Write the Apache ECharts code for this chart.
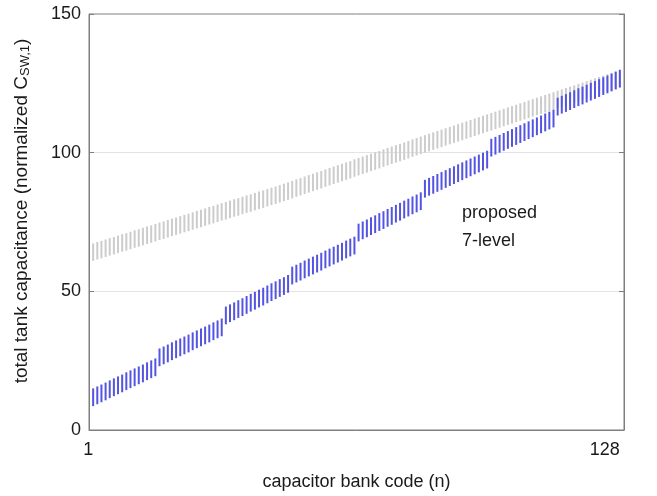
<!DOCTYPE html>
<html>
<head>
<meta charset="utf-8">
<script src="https://cdn.jsdelivr.net/npm/echarts@6/dist/echarts.min.js"></script>
<style>
html,body{margin:0;padding:0;background:#fff;}
#chart{width:657px;height:496px;}
</style>
</head>
<body>
<div id="chart"></div>
<script>
// capacitor bank codes 1..128
const codes = Array.from({length: 128}, (_, i) => i + 1);

// conventional (gray) bars: low / high ends
const grayLow = [
61.0,61.5,61.9,62.4,62.9,63.3,63.8,64.3,64.7,65.2,65.7,66.1,66.6,67.1,67.5,68.0,
68.5,68.9,69.4,69.9,70.3,70.8,71.3,71.7,72.2,72.7,73.1,73.6,74.1,74.5,75.0,75.5,
75.9,76.4,76.9,77.3,77.8,78.3,78.7,79.2,79.7,80.1,80.6,81.1,81.5,82.0,
82.5,83.0,83.5,84.1,84.6,85.1,85.6,86.1,86.6,87.1,87.7,88.2,88.7,89.2,89.7,90.2,
90.7,91.3,91.8,92.3,92.8,93.3,93.8,94.3,94.9,95.4,95.9,96.4,96.9,97.4,97.9,98.5,
99.0,99.5,100.0,
100.5,101.0,101.5,102.0,102.5,103.0,103.5,104.0,104.5,105.0,105.5,106.0,106.5,107.0,107.5,
108.0,108.5,109.0,109.5,110.0,110.5,111.0,111.5,112.0,112.5,113.0,113.5,114.0,114.5,115.0,115.5,
116.0,116.5,117.0,117.5,118.0,118.5,119.0,119.5,120.0,120.5,121.0,121.5,122.0,122.5,123.0,123.5
];
const grayHigh = [
67.3,67.8,68.2,68.7,69.2,69.6,70.1,70.6,71.0,71.5,72.0,72.4,72.9,73.4,73.8,74.3,
74.8,75.2,75.7,76.2,76.6,77.1,77.6,78.0,78.5,79.0,79.4,79.9,80.4,80.8,81.3,81.8,
82.2,82.7,83.2,83.6,84.1,84.6,85.0,85.5,86.0,86.4,86.9,87.4,87.8,88.3,
88.8,89.3,89.8,90.4,90.9,91.4,91.9,92.4,92.9,93.4,94.0,94.5,95.0,95.5,96.0,96.5,
97.0,97.6,98.1,98.6,99.1,99.6,100.1,100.6,101.2,101.7,102.2,102.7,103.2,103.7,104.2,104.8,
105.3,105.8,106.3,
106.8,107.3,107.8,108.3,108.8,109.3,109.8,110.3,110.8,111.3,111.8,112.3,112.8,113.3,113.8,
114.3,114.8,115.3,115.8,116.3,116.8,117.3,117.8,118.3,118.8,119.3,119.8,120.3,120.8,121.3,121.8,
122.3,122.8,123.3,123.8,124.3,124.8,125.3,125.8,126.3,126.8,127.3,127.8,128.3,128.8,129.3,129.8
];

// proposed 7-level (blue) bars: low / high ends
const blueLow = [
8.6,9.3,10.0,10.7,11.5,12.2,12.9,13.6,14.4,15.1,15.8,16.5,17.2,18.0,18.7,19.4,
23.0,23.7,24.4,25.2,25.9,26.6,27.3,28.0,28.8,29.5,30.2,30.9,31.6,32.4,33.1,33.8,
38.1,38.9,39.6,40.4,41.1,41.9,42.7,43.4,44.2,44.9,45.7,46.5,47.2,48.0,48.7,49.5,
52.5,53.2,53.9,54.7,55.4,56.1,56.8,57.5,58.3,59.0,59.7,60.4,61.1,61.9,62.6,63.3,
68.0,68.8,69.5,70.3,71.0,71.8,72.5,73.3,74.0,74.8,75.5,76.3,77.0,77.8,78.5,79.3,
83.8,84.5,85.2,85.9,86.6,87.3,88.0,88.7,89.4,90.1,90.8,91.5,92.2,92.9,93.6,94.3,
98.6,99.3,100.0,100.7,101.4,102.1,102.8,103.5,104.2,104.9,105.6,106.3,107.0,107.7,108.4,109.1,
113.4,114.1,114.7,115.4,116.1,116.8,117.4,118.1,118.8,119.4,120.1,120.8,121.4,122.1,122.8,123.5
];
const blueHigh = [
15.0,15.7,16.4,17.1,17.9,18.6,19.3,20.0,20.8,21.5,22.2,22.9,23.6,24.4,25.1,25.8,
29.4,30.1,30.8,31.6,32.3,33.0,33.7,34.4,35.2,35.9,36.6,37.3,38.0,38.8,39.5,40.2,
44.5,45.3,46.0,46.8,47.5,48.3,49.1,49.8,50.6,51.3,52.1,52.9,53.6,54.4,55.1,55.9,
58.9,59.6,60.3,61.1,61.8,62.5,63.2,63.9,64.7,65.4,66.1,66.8,67.5,68.3,69.0,69.7,
74.4,75.2,75.9,76.7,77.4,78.2,78.9,79.7,80.4,81.2,81.9,82.7,83.4,84.2,84.9,85.7,
90.2,90.9,91.6,92.3,93.0,93.7,94.4,95.1,95.8,96.5,97.2,97.9,98.6,99.3,100.0,100.7,
105.0,105.7,106.4,107.1,107.8,108.5,109.2,109.9,110.6,111.3,112.0,112.7,113.4,114.1,114.8,115.5,
119.8,120.5,121.1,121.8,122.5,123.2,123.8,124.5,125.2,125.8,126.5,127.2,127.8,128.5,129.2,129.9
];

const xTickValues = [1, 128];
const xTickLabels = ['1', '128'];

const FONT = 'Liberation Sans, Arial, Helvetica, sans-serif';

function rangeData(lo, hi) {
  return codes.map((n, i) => [n, lo[i], hi[i]]);
}

function makeRender(color) {
  return function (params, api) {
    const p1 = api.coord([api.value(0), api.value(1)]);
    const p2 = api.coord([api.value(0), api.value(2)]);
    return {
      type: 'rect',
      shape: { x: p1[0] - 1, y: p2[1], width: 2, height: p1[1] - p2[1] },
      style: { fill: color }
    };
  };
}

const chart = echarts.init(document.getElementById('chart'), null, { renderer: 'canvas' });
chart.setOption({
  animation: false,
  backgroundColor: '#ffffff',
  textStyle: { fontFamily: FONT },
  grid: {
    left: 89, right: 33, top: 14, bottom: 65,
    show: true, borderColor: '#7f7f7f', borderWidth: 1, backgroundColor: 'transparent'
  },
  xAxis: {
    type: 'value', min: 0, max: 129,
    name: 'capacitor bank code (n)', nameLocation: 'middle', nameGap: 43,
    nameTextStyle: { fontSize: 18, color: '#1a1a1a', fontFamily: FONT },
    axisLine: { show: true, lineStyle: { color: '#7f7f7f' } },
    axisTick: { show: false },
    splitLine: { show: false },
    axisLabel: {
      customValues: xTickValues,
      formatter: v => xTickLabels[xTickValues.indexOf(v)],
      fontSize: 18, color: '#1a1a1a', margin: 11, align: 'right', fontFamily: FONT,
      showMinLabel: true, showMaxLabel: true
    }
  },
  yAxis: [{
    type: 'value', min: 0, max: 150, interval: 50,
    name: 'total tank capacitance (normalized C{sub|SW,1})',
    nameLocation: 'middle', nameGap: 57, nameRotate: 90,
    nameTextStyle: {
      fontSize: 19, color: '#1a1a1a', fontFamily: FONT, padding: [0, 0, 0, 22],
      rich: { sub: { fontSize: 13, color: '#1a1a1a', fontFamily: FONT, verticalAlign: 'bottom', padding: [8, 0, 0, 0] } }
    },
    axisLine: { show: true, lineStyle: { color: '#7f7f7f' } },
    axisTick: { show: true, inside: true, length: 5, lineStyle: { color: '#7f7f7f' } },
    axisLabel: { fontSize: 18, color: '#1a1a1a', margin: 8, fontFamily: FONT },
    splitLine: { show: true, showMinLine: false, showMaxLine: false, lineStyle: { color: '#e3e3e3', width: 1 } }
  }, {
    type: 'value', min: 0, max: 150, interval: 50, position: 'right',
    axisLine: { show: true, lineStyle: { color: '#7f7f7f' } },
    axisTick: { show: true, inside: true, length: 5, lineStyle: { color: '#7f7f7f' } },
    axisLabel: { show: false },
    splitLine: { show: false }
  }],
  series: [{
    name: 'conventional',
    type: 'custom',
    renderItem: makeRender('#cccccc'),
    encode: { x: 0, y: [1, 2] },
    data: rangeData(grayLow, grayHigh),
    z: 2
  }, {
    name: 'proposed 7-level',
    type: 'custom',
    renderItem: makeRender('#5454e2'),
    encode: { x: 0, y: [1, 2] },
    data: rangeData(blueLow, blueHigh),
    z: 3
  }],
  graphic: [{
    type: 'text', left: 462, top: 199,
    style: { text: 'proposed\n7-level', fontSize: 18, lineHeight: 28, fill: '#1a1a1a', fontFamily: FONT }
  }]
});
</script>
</body>
</html>
